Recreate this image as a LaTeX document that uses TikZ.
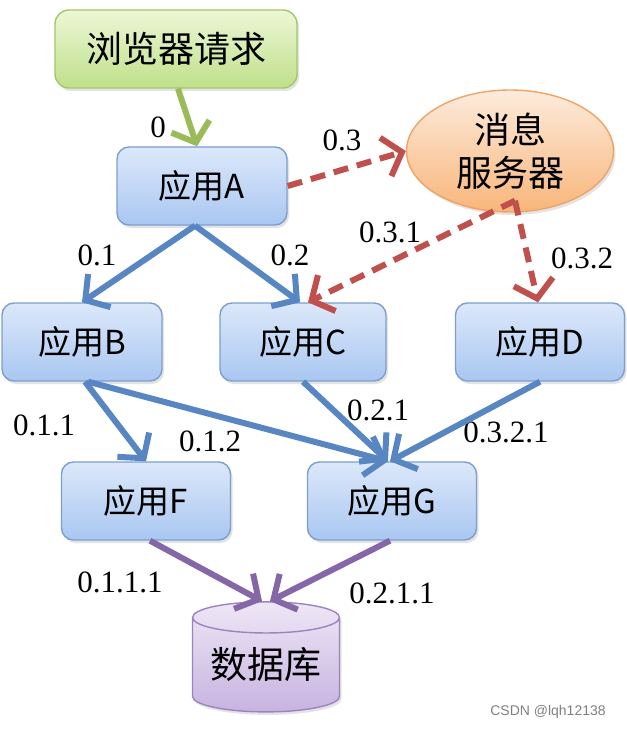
\documentclass[tikz,border=0pt]{standalone}
\usepackage{fontspec}
\setmainfont{Liberation Serif}
\newfontfamily\cjk{Noto Sans CJK SC}
\newfontfamily\wm{Liberation Sans}
\usetikzlibrary{arrows.meta,shapes.geometric,shadows}
\definecolor{blueA}{HTML}{DCE8FA}
\definecolor{blueB}{HTML}{A9C7F1}
\definecolor{blueE}{HTML}{7C9FCF}
\definecolor{blueArr}{HTML}{5786C3}
\definecolor{redArr}{HTML}{C0504D}
\definecolor{purArr}{HTML}{8567A8}
\definecolor{grnArr}{HTML}{9BBB59}
\definecolor{grnA}{HTML}{EDF7D6}
\definecolor{grnB}{HTML}{BFE08A}
\definecolor{grnE}{HTML}{A5C66A}
\definecolor{orA}{HTML}{FDEBDD}
\definecolor{orB}{HTML}{F8B67A}
\definecolor{orE}{HTML}{EFA466}
\definecolor{puA}{HTML}{EEE7F6}
\definecolor{puB}{HTML}{C7B3E0}
\definecolor{puE}{HTML}{9A84BF}
\tikzset{
  shad/.style={drop shadow={opacity=0.22,shadow xshift=2pt,shadow yshift=-3pt}},
  appbox/.style={rectangle,rounded corners=12pt,draw=blueE,line width=1.4pt,
    top color=blueA,bottom color=blueB,minimum height=78pt,shad,
    font=\cjk\fontsize{33}{36}\selectfont,inner sep=0pt},
  lbl/.style={font=\fontsize{31}{33}\selectfont,inner sep=0pt},
  arr/.style={line width=6pt,-{Straight Barb[length=17pt,width=40pt,line width=6pt]}},
  bluearr/.style={arr,draw=blueArr},
  redarr/.style={arr,draw=redArr,dash pattern=on 15pt off 9pt},
  purarr/.style={arr,draw=purArr},
  grnarr/.style={arr,draw=grnArr}
}
\begin{document}
\begin{tikzpicture}[x=1pt,y=-1pt]
\useasboundingbox[fill=white] (0,0) rectangle (626,730);
% nodes
\node[rectangle,rounded corners=14pt,draw=grnE,line width=1.4pt,top color=grnA,bottom color=grnB,
  minimum width=242pt,minimum height=78pt,shad,font=\cjk\fontsize{36}{38}\selectfont,inner sep=0pt]
  (req) at (176,49) {浏览器请求};
\node[appbox,minimum width=170pt] (A) at (202,186) {应用A};
\node[ellipse,draw=orE,line width=1.4pt,top color=orA,bottom color=orB,minimum width=207pt,
  minimum height=122pt,shad,font=\cjk\fontsize{36}{43}\selectfont,align=center,inner sep=0pt]
  (msg) at (510,151) {消息\\服务器};
\node[appbox,minimum width=160pt] (B) at (82,342) {应用B};
\node[appbox,minimum width=166pt] (C) at (303,342) {应用C};
\node[appbox,minimum width=169pt] (D) at (540,342) {应用D};
\node[appbox,minimum width=169pt] (F) at (146,501) {应用F};
\node[appbox,minimum width=169pt] (G) at (392,501) {应用G};
\node[cylinder,shape border rotate=90,aspect=0.28,draw=puE,line width=1.4pt,
  top color=puA,bottom color=puB,minimum width=147pt,minimum height=110pt,shad,
  font=\cjk\fontsize{37}{40}\selectfont,inner sep=0pt] (db) at (266,665) {数据库};
% labels
\node[lbl] (l0) at (158,127) {0};
\node[lbl] (l03) at (342,140) {0.3};
\node[lbl] (l01) at (97,255) {0.1};
\node[lbl] (l02) at (290,255) {0.2};
\node[lbl] (l031) at (390,232) {0.3.1};
\node[lbl] (l032) at (582,258) {0.3.2};
\node[lbl] (l011) at (44,425) {0.1.1};
\node[lbl] (l012) at (210,441) {0.1.2};
\node[lbl] (l021) at (378,410) {0.2.1};
\node[lbl] (l0321) at (506,432) {0.3.2.1};
\node[lbl] (l0111) at (120,582) {0.1.1.1};
\node[lbl] (l0211) at (392,593) {0.2.1.1};
\node[font=\wm\fontsize{14}{16}\selectfont,text=black!50,inner sep=0pt] (wm) at (548,712) {CSDN @lqh12138};
% connectors
\draw[grnarr] ([xshift=2pt]req.south) -- ([xshift=-5pt]A.north);
\draw[redarr] (A.east) -- (msg.west);
\draw[bluearr] ([xshift=-7pt]A.south) -- (B.north);
\draw[bluearr] ([xshift=-7pt]A.south) -- ([xshift=-3pt]C.north);
\draw[redarr] ([xshift=5pt,yshift=12pt]msg.south) -- ([xshift=5pt]C.north);
\draw[redarr] ([xshift=5pt,yshift=12pt]msg.south) -- ([xshift=-2pt]D.north);
\draw[bluearr] ([xshift=3pt]B.south) -- (F.north);
\draw[bluearr] ([xshift=6pt]B.south) -- ([xshift=-4pt]G.north);
\draw[bluearr] (C.south) -- ([xshift=-4pt]G.north);
\draw[bluearr] (D.south) -- ([xshift=-2pt]G.north);
\draw[purarr] ([xshift=4pt]F.south) -- ([xshift=-4pt]db.north);
\draw[purarr] ([xshift=-2pt]G.south) -- ([xshift=4pt]db.north);
\end{tikzpicture}
\end{document}
